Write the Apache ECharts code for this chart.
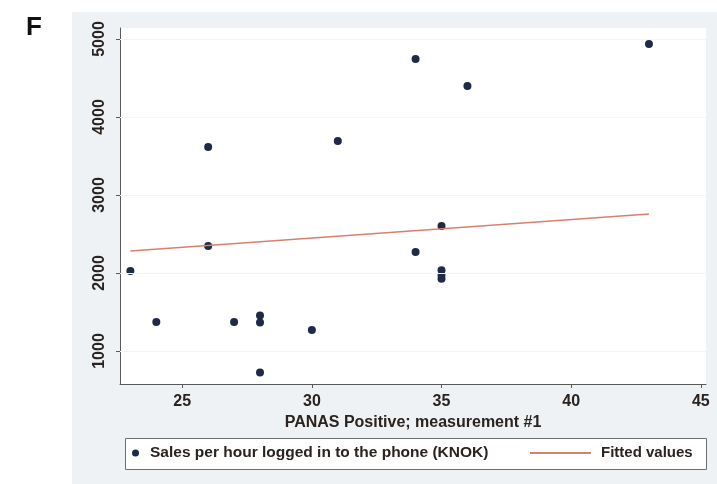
<!DOCTYPE html>
<html>
<head>
<meta charset="utf-8">
<script src="https://cdn.jsdelivr.net/npm/echarts@6/dist/echarts.min.js"></script>
<style>
  html, body { margin: 0; padding: 0; background: #ffffff; }
  #chart { width: 717px; height: 484px; }
</style>
</head>
<body>
<div id="chart"></div>
<script>
// PANAS positive score (measurement #1) for each salesperson
const panasScore = [23, 24, 26, 26, 27, 28, 28, 28, 30, 31, 34, 34, 35, 35, 35, 35, 36, 43];
// Sales per hour logged in to the phone (KNOK)
const salesPerHour = [2025, 1372, 3615, 2346, 1372, 1455, 1365, 725, 1270, 3692, 4744, 2269, 2603, 2035, 1975, 1925, 4397, 4936];
// Fitted values of the linear fit, at the ends of the observed range
const fitX = [23, 43];
const fitY = [2282, 2756];
// Tick labels
const xTicks = [25, 30, 35, 40, 45];
const yTicks = [1000, 2000, 3000, 4000, 5000];

const scatterName = 'Sales per hour logged in to the phone (KNOK)';
const fitName = 'Fitted values';
const font = 'Liberation Sans, Arial, sans-serif';
const textColor = '#2a2320';
const fitColor = '#d8806e';

const chart = echarts.init(document.getElementById('chart'), null, { renderer: 'canvas' });

chart.setOption({
  backgroundColor: '#ffffff',
  animation: false,
  graphic: [
    // panel background
    { type: 'rect', z: -10, shape: { x: 72, y: 12, width: 645, height: 472 }, style: { fill: '#eef2f4' } },
    // legend frame
    { type: 'rect', z: 1, shape: { x: 125.5, y: 438.5, width: 581, height: 31 }, style: { fill: '#ffffff', stroke: '#6e6e6e', lineWidth: 1 } },
    // panel letter
    { type: 'text', left: 26, top: 15, style: { text: 'F', font: 'bold 26px ' + font, fill: '#111111' } }
  ],
  grid: {
    left: 120, top: 28, right: 11, bottom: 100,
    show: true, backgroundColor: '#ffffff', borderWidth: 0
  },
  xAxis: {
    type: 'value',
    min: 22.6, max: 45.2,
    name: 'PANAS Positive; measurement #1',
    nameLocation: 'middle',
    nameGap: 27,
    nameTextStyle: { fontFamily: font, fontSize: 16, fontWeight: 'bold', color: textColor },
    axisLine: { show: true, onZero: false, lineStyle: { color: '#595959', width: 1 } },
    axisTick: { show: true, customValues: xTicks, length: 4, lineStyle: { color: '#595959' } },
    axisLabel: { customValues: xTicks, margin: 10, fontFamily: font, fontSize: 16, fontWeight: 'bold', color: textColor },
    splitLine: { show: false }
  },
  yAxis: {
    type: 'value',
    min: 577, max: 5141,
    axisLine: { show: true, onZero: false, lineStyle: { color: '#595959', width: 1 } },
    axisTick: { show: true, customValues: yTicks, length: 4, lineStyle: { color: '#595959' } },
    axisLabel: {
      customValues: yTicks, rotate: 90, margin: 12,
      formatter: v => String(v),
      fontFamily: font, fontSize: 16, fontWeight: 'bold', color: textColor
    },
    splitLine: { show: false }
  },
  legend: [
    {
      data: [scatterName],
      left: 132, top: 445, padding: 0,
      itemWidth: 7, itemHeight: 7,
      icon: 'circle',
      textStyle: { fontFamily: font, fontSize: 15.5, fontWeight: 'bold', color: textColor, lineHeight: 16, padding: [0, 0, 0, 6] },
      z: 5
    },
    {
      data: [fitName],
      left: 530, top: 445, padding: 0,
      itemWidth: 61, itemHeight: 2,
      icon: 'rect',
      textStyle: { fontFamily: font, fontSize: 15, fontWeight: 'bold', color: textColor, lineHeight: 16, padding: [0, 0, 0, 5] },
      z: 5
    }
  ],
  series: [
    {
      name: 'grid',
      type: 'line',
      data: [],
      silent: true,
      markLine: {
        symbol: 'none',
        silent: true,
        label: { show: false },
        lineStyle: { color: '#f3f4f6', width: 1, type: 'solid' },
        data: yTicks.map(v => ({ yAxis: v }))
      }
    },
    {
      name: scatterName,
      type: 'scatter',
      symbol: 'circle',
      symbolSize: 8,
      itemStyle: { color: '#1e2a48', opacity: 1 },
      data: panasScore.map((x, i) => [x, salesPerHour[i]]),
      z: 3
    },
    {
      name: fitName,
      type: 'line',
      symbol: 'none',
      lineStyle: { color: fitColor, width: 1.6 },
      itemStyle: { color: fitColor },
      data: fitX.map((x, i) => [x, fitY[i]]),
      z: 4
    }
  ]
});
</script>
</body>
</html>
